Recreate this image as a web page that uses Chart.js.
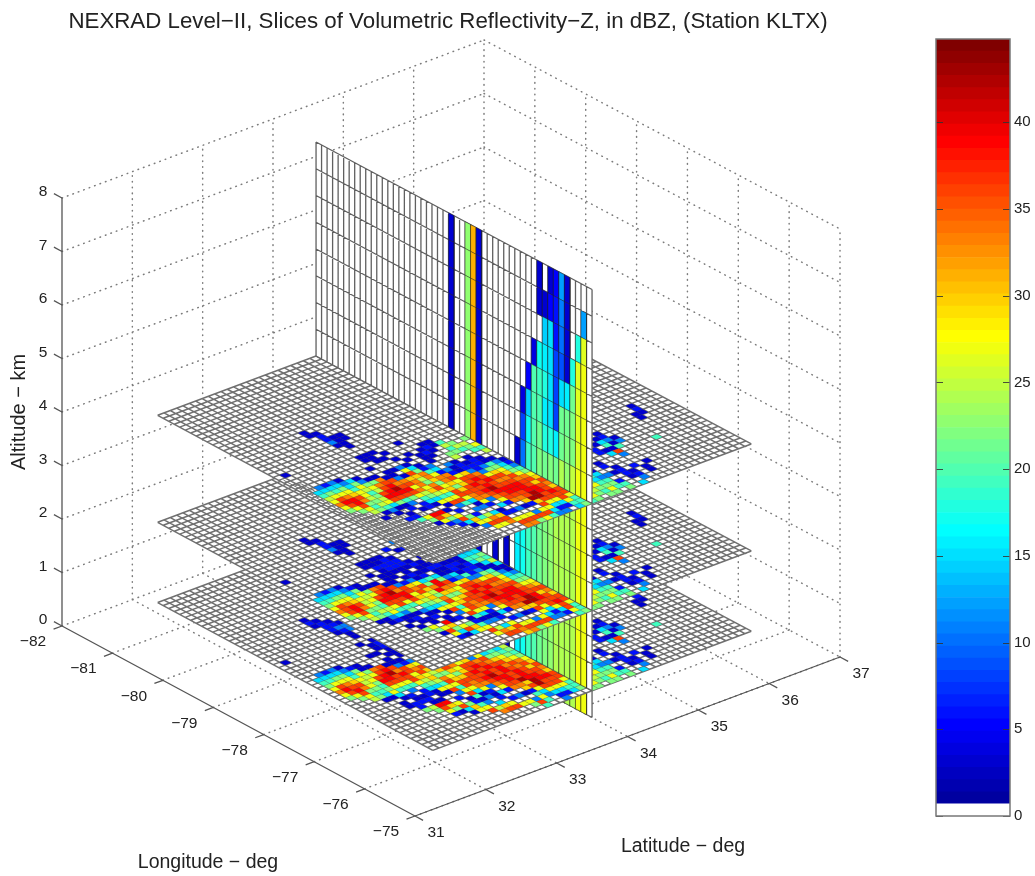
<!DOCTYPE html>
<html><head><meta charset="utf-8">
<style>html,body{margin:0;padding:0;background:#fff}canvas{position:absolute;top:0;display:block;filter:blur(0.55px)}</style>
<script src="https://cdn.jsdelivr.net/npm/chart.js@4"></script>
</head><body>
<canvas id="main" width="1035" height="876" style="left:0px"></canvas>
<canvas id="bar" width="105" height="876" style="left:930px"></canvas>
<script>
const titleText = "NEXRAD Level\u2212II, Slices of Volumetric Reflectivity\u2212Z, in dBZ, (Station KLTX)";
const lonTicks = [-82,-81,-80,-79,-78,-77,-76,-75];
const latTicks = [31,32,33,34,35,36,37];
const altTicks = [0,1,2,3,4,5,6,7,8];
const barTicks = [0,5,10,15,20,25,30,35,40];
const planeAltitudes = [0.5,2,4];
const planeLonRange = [-81.15,-75.7];
const planeLatRange = [31.75,36.25];
const gridCount = 50;
const sliceLat = 34;
const sliceRowsCount = 16;
// dBZ value of each cell code
const dbzCodes = {b:3,B:6,c:11,C:15,t:19,g:22,l:25,y:27,Y:30,o:33,O:36,r:39,R:42};
// rows = latitude index, characters = longitude index starting at 12
const firstLonIndex = 12;
const topRows = [
"",
".........b.....Ctlyoyg",
"..............cCgyOrOyg",
"..............BCtyorrOyl.b",
"..............cCgyYOogtgb",
"..............bcCtyylgltcb.B",
"...............CgyltglyCb.bBt",
"...............bcgylOrOgbB..ygb",
"................bgoOrrOtc.b.rOyB",
"................boOrRrOg.BB.rYgcB",
"..bb..........b..bOoOrOytCb.b.yOCb",
"...bBBcb...bb...bbcoOyolgCyb.B.gYyc",
".....bbbb..bbb..b.bYooyYltyOc..BtyOy",
".....bb....b.b..cyOYlgoOytyOt.c.loOy",
"............b.b.bCgooYgyYOOyCbc.CYOo",
"...............b.bBtyooYgYOooyB.bB.yOo",
"..............b...cCBoOyYOOOoc.C.B.yOo",
"...........b...bbb..cByOOrOrOoyB.c.yOg",
"..............bBb..cbbYOrOrRrOOo.b.cOy",
".............bBb...bBBcoOrOOrrOoYB.yOt",
".............bb..gl.bBBcyOoOrrOORYOyCc",
"..............tltg.bBBcgYOoOrrrRROyCBc",
"...............glt..bbtgyYOoOOrrOOyCB",
"................lgt..bcCtgyoOYOOrOOytC",
"...............g.ytl..bBctgyYOoYOOyttg",
"..................gt...bBctglyYyYOytgt"
];
const midRows = [
"",
".........b.....Ctgyoyg",
"..............cCtyOOOyg",
"..............BCgyorrOylb",
"..............cCgyYOogtgbb",
"..............bcCtylygltcB.b",
"...............BgylygtlyCbb.bg",
"...............bbgyOrOytcbBb.ygb",
"................boOrrOOtgb.bb.yOyB",
"................bOrRrOyt.cbB.rYgCb",
"..bb..........b..bOorrOytCb.bb.yOC",
"...bBBcb...bb..bbbcOOyYlgCyb.B.gYy",
".....bbbb..bbBbbb.BYoOyYltyOc.bBtyOy",
".....bb....bbBBb.bcyOYlgoOytyOtbc.loO",
"...........bBBBbbBbCgorYgyYOOyCbc.CYO",
"............bBBb.bBtrroYgYOooyBbB.yOoY",
"..........B...bBbb.CgOoyYOOOoc.C.B.yOo",
"...........b...bbBbbcByOOrOrOoyB.c.yOg",
".........c.B..b.bBbbCcYOrOrRrOOo.b.cOy",
"..........BB...b.bBBbtcoOrOOrrOoYB.yOt",
"...........bc....bBbBBcyOoOrrOORYOyCc",
".............bbb.bbBBcgYOoOrrrRROyCBc",
"...............bcCtCbbtgyYOoOOrrOOyCB",
"................cCtgCbbcCtgyoOYOOrOOytC",
"...............btCgtlCbbctgyYOoYOOyttg",
"..................gtlgtCcBctglyYyYOytgt"
];
const lowRows = [
"",
".........b.....Ctgyoyg",
"..............cCtyOrOyg",
"..............BCgyoOrOyl",
"..............cCgyYOogtgb",
"..............bcCtylygtCb.bb",
"...............BgylygtgyCb.BBg",
"...............bbgyOrOyt.BbB.lg",
"................boOrrOytc.bBbrOyB",
".................OrROOyt.BB.brYgb",
"..bBb.........b..bOorOOytCbb..yOCb",
"...bBBBb...b..b.bbcOOyYlgCyb.B.gYy",
"....bBcBbb..bb.b.bBYoOyYltyOc.bBtyO",
".....bcc...bBBbbb.cyOYlgoOytyOtbc.lo",
"......c.....bBBBbBCgorYgyYOOyCbc.CYO",
"...........bBBBBBbBtroOYgYOooyBbB.yO",
"..........b.bBBBcBbCgOoyYOOOoc.C.B.y",
"............bbBBbbBbcByOOrOrOoyB.c.yg",
"..........bb.bBbb.bBCcYOrOrRrOOo.b.cOt",
"...........bbb.bBbbbCtcoOrOOrrOoYBtyt",
".............bbb.bBbBcyOoOrrOORYOyCc",
"................bb.bBcCgYOoOrrrRROyCBc",
"...................BBbtgyYOoOOrrOOyCB",
"..................bBCtCtgyoOYOOrOOytC",
"..................tCgtlgtgyYOoYOOyttg",
"...................gtlgtCBctglyYyYOytg"
];
// rows 26 and above, shared behind the vertical slice
const backRows = [
"................................gtlyyg",
"..............................CtgyYlg",
"..............................cCtgygtg",
"................................tCtgyg",
"...............................bCctgt",
".................................c.Btg",
"..............................bB.b",
"................................bBBb.C",
"...........................BB.....bBc",
"..........................b.bC...B",
".........................bCtbOc...bb",
"........................bBcbt....b",
"..........................bc",
"",
"",
"",
".............................t",
"",
".......................bb",
".....................bBb"
];
// vertical slice: column index, then 16 dBZ values from 8 km downward (0 = no return)
const sliceColumns = [
[24,[3,3,3,3,3,3,3,3,3,3,3,3,3,3,3,3]],
[27,[23,23,23,23,23,23,23,23,23,23,23,23,23,23,23,23]],
[28,[31,31,31,31,31,31,31,31,31,31,31,31,31,31,31,31]],
[29,[3,3,3,3,3,3,3,3,3,3,3,3,3,3,3,3]],
[32,[0,0,0,0,0,0,0,0,3,3,3,3,3,3,3,3]],
[34,[0,0,0,0,0,0,0,0,3,3,3,3,3,3,3,3]],
[36,[0,0,0,0,0,0,0,3,16,16,16,16,16,16,16,16]],
[37,[0,0,0,0,0,4,8,10,16,16,17,17,17,17,17,17]],
[38,[0,0,0,0,5,14,17,19,19,19,19,19,19,19,19,19]],
[39,[0,0,0,4,20,20,20,20,20,20,20,20,20,20,20,20]],
[40,[3,3,0,17,19,20,21,22,21,21,21,21,21,21,21,21]],
[41,[0,3,14,16,18,16,18,21,22,22,22,22,22,22,22,22]],
[42,[3,5,15,15,15,15,18,22,23,23,23,23,23,23,23,23]],
[43,[5,6,6,8,8,8,16,21,24,24,24,24,24,24,24,24]],
[44,[12,11,10,9,15,21,21,24,24,24,24,24,24,24,24,24]],
[45,[3,3,3,3,16,21,22,23,24,24,24,24,24,24,24,24]],
[46,[0,0,0,18,21,22,22,25,24,24,24,24,24,24,24,24]],
[47,[0,0,18,26,26,26,26,27,27,27,27,27,27,27,27,27]],
[48,[0,12,26,27,27,27,27,27,27,27,27,27,27,27,27,27]]
];
const jetColors = ["#FFFFFF","#0000A0","#0000B0","#0000C0","#0000D0","#0000E0","#0000F0","#0000FF",
"#0010FF","#0020FF","#0030FF","#0040FF","#0050FF","#0060FF","#0070FF","#0080FF",
"#0090FF","#00A0FF","#00B0FF","#00C0FF","#00D0FF","#00E0FF","#00F0FF","#00FFFF",
"#10FFF0","#20FFE0","#30FFD0","#40FFC0","#50FFB0","#60FFA0","#70FF90","#80FF80",
"#90FF70","#A0FF60","#B0FF50","#C0FF40","#D0FF30","#E0FF20","#F0FF10","#FFFF00",
"#FFF000","#FFE000","#FFD000","#FFC000","#FFB000","#FFA000","#FF9000","#FF8000",
"#FF7000","#FF6000","#FF5000","#FF4000","#FF3000","#FF2000","#FF1000","#FF0000",
"#F00000","#E00000","#D00000","#C00000","#B00000","#A00000","#900000","#800000"];
const barBandWidth = 0.7;
const barMax = 44.8;

// ---- view: corners of the floor on the page, and height of one km
const view = {a:[62,626], b:[415,816], c:[840,657], d:[484,468], km:53.5};
function project(lon,lat,alt){
  const u=(lon-lonTicks[0])/(lonTicks[lonTicks.length-1]-lonTicks[0]);
  const v=(lat-latTicks[0])/(latTicks[latTicks.length-1]-latTicks[0]);
  const f=k=>(1-u)*(1-v)*view.a[k]+u*(1-v)*view.b[k]+u*v*view.c[k]+(1-u)*v*view.d[k];
  return {x:f(0), y:f(1)-view.km*alt};
}
const GAP={x:NaN,y:NaN};
const colorFor=v=>jetColors[Math.min(63,Math.floor(v/barBandWidth))];
const lonAt=i=>planeLonRange[0]+(planeLonRange[1]-planeLonRange[0])*i/gridCount;
const latAt=j=>planeLatRange[0]+(planeLatRange[1]-planeLatRange[0])*j/gridCount;
const cellPt=(alt,i,j)=>project(lonAt(i),latAt(j),alt);
const sliceJ=Math.round((sliceLat-planeLatRange[0])/(planeLatRange[1]-planeLatRange[0])*gridCount);

const poly=(pts,color,border,bw)=>({data:pts.concat([pts[0]]),showLine:true,fill:'shape',backgroundColor:color,
  borderColor:border||color,borderWidth:bw===undefined?0.5:bw,pointRadius:0,spanGaps:false});
const lines=(pts,color,width,dash)=>({data:pts,showLine:true,fill:false,borderColor:color,borderWidth:width,
  borderDash:dash||[],pointRadius:0,spanGaps:false,borderCapStyle:dash?'round':'butt'});

const seq=[]; // painter's order, back to front

// dotted box grid
const DOT='#7c7c7c';
(function(){
  const pts=[];
  const seg=(p,q)=>pts.push(p,q,GAP);
  const L0=lonTicks[0],L1=lonTicks[lonTicks.length-1],A0=latTicks[0],A1=latTicks[latTicks.length-1],Z1=altTicks[altTicks.length-1];
  lonTicks.forEach((lo,k)=>{ if(k>0){seg(project(lo,A0,0),project(lo,A1,0));} if(k>0){seg(project(lo,A1,0),project(lo,A1,Z1));} });
  latTicks.forEach((la,k)=>{ if(k>0){seg(project(L0,la,0),project(L1,la,0));} if(k>0){seg(project(L0,la,0),project(L0,la,Z1));} });
  altTicks.forEach(z=>{ seg(project(L0,A0,z),project(L0,A1,z)); seg(project(L0,A1,z),project(L1,A1,z)); });
  seg(project(L1,A1,0),project(L1,A1,Z1));
  seq.push(lines(pts,DOT,1.5,[0.6,5.2]));
})();
// solid axes and tick marks
(function(){
  const pts=[];const seg=(p,q)=>pts.push(p,q,GAP);
  const L0=lonTicks[0],L1=lonTicks[lonTicks.length-1],A0=latTicks[0],A1=latTicks[latTicks.length-1],Z1=altTicks[altTicks.length-1];
  seg(project(L0,A0,0),project(L1,A0,0));
  seg(project(L1,A0,0),project(L1,A1,0));
  seg(project(L0,A0,0),project(L0,A0,Z1));
  lonTicks.forEach(lo=>seg(project(lo,A0,0),project(lo,A0-0.12,0)));
  latTicks.forEach(la=>seg(project(L1,la,0),project(L1+0.16,la,0)));
  altTicks.forEach(z=>seg(project(L0,A0,z),project(L0-0.16,A0,z)));
  seq.push(lines(pts,'#555',1.3));
})();

const PLANE_LINE='#707070', PLANE_W=1.5, CELL_EDGE='rgba(40,40,40,0.25)';
function planeLines(alt,j0,j1){
  const pts=[];
  for(let j=j0;j<=j1;j++){pts.push(cellPt(alt,0,j),cellPt(alt,gridCount,j),GAP);}
  for(let i=0;i<=gridCount;i++){pts.push(cellPt(alt,i,j0),cellPt(alt,i,j1),GAP);}
  return lines(pts,PLANE_LINE,PLANE_W);
}
function planeCells(alt,rows,j0,j1){
  rows.forEach((r,j)=>{ if(j<j0||j>=j1) return;
    for(let k=0;k<r.length;k++){ const v=dbzCodes[r[k]]; if(!v) continue; const i=k+firstLonIndex; if(i>=gridCount) continue;
      seq.push(poly([cellPt(alt,i,j),cellPt(alt,i+1,j),cellPt(alt,i+1,j+1),cellPt(alt,i,j+1)],colorFor(v),CELL_EDGE,0.5));
    }});
}
function pushPlanePart(alt,rows,j0,j1,extra){
  seq.push(poly([cellPt(alt,0,j0),cellPt(alt,gridCount,j0),cellPt(alt,gridCount,j1),cellPt(alt,0,j1)],'#ffffff','#ffffff',0));
  seq.push(planeLines(alt,j0,j1));
  if(extra) extra();
  planeCells(alt,rows,j0,j1);
}
function pushSlice(t0,t1){
  const sp=(col,t)=>project(lonAt(col),sliceLat,altTicks[altTicks.length-1]*(1-t/sliceRowsCount));
  seq.push(poly([sp(0,t0),sp(gridCount,t0),sp(gridCount,t1),sp(0,t1)],'#ffffff','#ffffff',0));
  const pts=[];
  for(let c=0;c<=gridCount;c++) pts.push(sp(c,t0),sp(c,t1),GAP);
  for(let t=t0;t<=t1;t++) pts.push(sp(0,t),sp(gridCount,t),GAP);
  seq.push(lines(pts,'#606060',1.3));
  sliceColumns.forEach(([col,vals])=>{ for(let t=t0;t<t1;t++){ const v=vals[t]; if(!v) continue;
    seq.push(poly([sp(col,t),sp(col+1,t),sp(col+1,t+1),sp(col,t+1)],colorFor(v),'rgba(30,30,30,0.55)',0.7)); }});
}
// middle-plane lines that show through the near corner of the top plane
function showThrough(topRowsFull,altTop,altMid){
  const A=cellPt(altTop,0,0),I=cellPt(altTop,1,0),J=cellPt(altTop,0,1);
  const ax=I.x-A.x,ay=I.y-A.y,bx=J.x-A.x,by=J.y-A.y,det=ax*by-ay*bx;
  const pts=[];
  const test=(p,q)=>{const mx=(p.x+q.x)/2-A.x,my=(p.y+q.y)/2-A.y;
    const ii=(mx*by-my*bx)/det,jj=(ax*my-ay*mx)/det;
    if(jj<0||ii>=gridCount||jj>=(ii-21)*0.4||jj>=sliceJ) return;
    const r=topRowsFull[Math.floor(jj)]||'';
    if(dbzCodes[r[Math.floor(ii)-firstLonIndex]]) return;
    pts.push(p,q,GAP);};
  for(let i=0;i<gridCount;i++)for(let j=0;j<gridCount;j++){
    test(cellPt(altMid,i,j),cellPt(altMid,i+1,j));
    test(cellPt(altMid,i,j),cellPt(altMid,i,j+1));
  }
  seq.push(lines(pts,PLANE_LINE,1));
}
const rowsByPlane=[lowRows.concat(backRows),midRows.concat(backRows),topRows.concat(backRows)];
const sliceBreaks=[15,12,8];
let tPrev=sliceRowsCount;
planeAltitudes.forEach((alt,p)=>{
  pushPlanePart(alt,rowsByPlane[p],sliceJ,gridCount);
  pushSlice(sliceBreaks[p],tPrev);
  tPrev=sliceBreaks[p];
  pushPlanePart(alt,rowsByPlane[p],0,sliceJ,p===2?()=>showThrough(rowsByPlane[2],planeAltitudes[2],planeAltitudes[1]):null);
});
pushSlice(0,tPrev);

const TXT='#222';
const FONT='"Liberation Sans", Arial, sans-serif';
const textPlugin={id:'text3d',afterDraw(chart){
  const c=chart.ctx,sx=chart.scales.x,sy=chart.scales.y;
  const put=(s,x,y,size,rot)=>{c.save();c.translate(sx.getPixelForValue(x),sy.getPixelForValue(y));if(rot)c.rotate(rot);
    c.font=size+'px '+FONT;c.fillStyle=TXT;c.textAlign='center';c.textBaseline='middle';c.fillText(s,0,0);c.restore();};
  put(titleText,448,22,22.3);
  const L0=lonTicks[0],L1=lonTicks[lonTicks.length-1],A0=latTicks[0];
  lonTicks.forEach(v=>{const p=project(v,A0,0);put('\u2212'+Math.abs(v),p.x-29,p.y+16,15.5);});
  latTicks.forEach(v=>{const p=project(L1,v,0);put(String(v),p.x+21,p.y+17,15.5);});
  altTicks.forEach(v=>{const p=project(L0,A0,v);put(String(v),p.x-19,p.y-6,15.5);});
  put('Longitude \u2212 deg',208,863,19.5);
  put('Latitude \u2212 deg',683,847,19.5);
  put('Altitude \u2212 km',19,412,20,-Math.PI/2);
}};
new Chart(document.getElementById('main'),{type:'scatter',
  data:{datasets:seq.slice().reverse()},
  options:{responsive:false,animation:false,events:[],layout:{padding:0},
    plugins:{legend:{display:false},tooltip:{enabled:false}},
    scales:{x:{type:'linear',min:0,max:1035,display:false},y:{type:'linear',min:0,max:876,reverse:true,display:false}}},
  plugins:[textPlugin]});

// colour bar
const barTickPlugin={id:'barTicks',afterDatasetsDraw(chart){
  const c=chart.ctx,a=chart.chartArea,s=chart.scales.y;
  c.save();c.strokeStyle='rgba(50,50,50,0.85)';c.lineWidth=1;
  barTicks.forEach(v=>{const y=Math.round(s.getPixelForValue(v))+0.5;
    c.beginPath();c.moveTo(a.left,y);c.lineTo(a.left+7,y);c.moveTo(a.right-7,y);c.lineTo(a.right,y);c.stroke();});
  c.strokeStyle='#777';c.lineWidth=1.5;c.strokeRect(a.left,a.top,a.right-a.left,a.bottom-a.top);c.restore();
}};
new Chart(document.getElementById('bar'),{type:'bar',
  data:{labels:['dBZ'],datasets:jetColors.map(col=>({data:[barBandWidth],backgroundColor:col,borderWidth:0,barPercentage:1,categoryPercentage:1,stack:'s'}))},
  options:{responsive:false,animation:false,events:[],layout:{padding:{left:6,top:39,bottom:60,right:0}},
    plugins:{legend:{display:false},tooltip:{enabled:false}},
    scales:{x:{display:false,stacked:true},
      y:{stacked:true,position:'right',min:0,max:barMax,
        afterBuildTicks(ax){ax.ticks=barTicks.map(v=>({value:v}));},
        afterFit(ax){ax.width=25;},
        grid:{display:false,drawTicks:false,tickLength:0},border:{display:false},
        ticks:{color:TXT,font:{family:FONT,size:15},padding:4,autoSkip:false,maxRotation:0}}}},
  plugins:[barTickPlugin]});
</script>
</body></html>
